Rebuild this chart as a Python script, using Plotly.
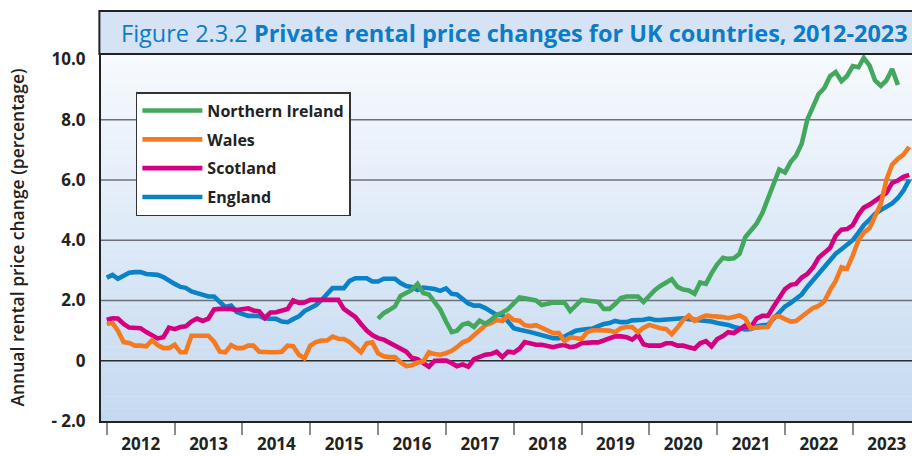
import pandas as pd
import plotly.graph_objects as go

# ---- data (annual % change, monthly from Jan 2012) ----
england = [2.76, 2.85, 2.72, 2.82, 2.92, 2.94, 2.94, 2.88, 2.85, 2.85, 2.78, 2.65,
           2.55, 2.45, 2.42, 2.30, 2.24, 2.15, 2.13, 2.13, 1.95, 1.78, 1.83, 1.62,
           1.55, 1.49, 1.49, 1.49, 1.40, 1.39, 1.39, 1.30, 1.28, 1.38, 1.47, 1.65,
           1.75, 1.85, 2.00, 2.20, 2.41, 2.41, 2.41, 2.65, 2.74, 2.74, 2.74, 2.63,
           2.63, 2.72, 2.72, 2.72, 2.58, 2.48, 2.45, 2.35, 2.43, 2.42, 2.38, 2.32,
           2.40, 2.22, 2.20, 2.05, 1.90, 1.83, 1.83, 1.75, 1.62, 1.52, 1.52, 1.30,
           1.08, 1.03, 1.01, 0.95, 0.90, 0.86, 0.82, 0.75, 0.75, 0.80, 0.90, 1.00,
           1.03, 1.05, 1.07, 1.15, 1.22, 1.25, 1.32, 1.28, 1.28, 1.34, 1.34, 1.36,
           1.40, 1.35, 1.35, 1.37, 1.39, 1.40, 1.41, 1.38, 1.36, 1.34, 1.33, 1.30,
           1.25, 1.22, 1.19, 1.12, 1.08, 1.04, 1.05, 1.15, 1.18, 1.19, 1.40, 1.62,
           1.80, 1.92, 2.05, 2.20, 2.45, 2.68, 2.92, 3.15, 3.35, 3.55, 3.70, 3.85,
           4.00, 4.25, 4.50, 4.68, 4.88, 5.00, 5.10, 5.22, 5.40, 5.65, 6.00]

scotland = [1.36, 1.41, 1.40, 1.22, 1.10, 1.08, 1.08, 0.95, 0.85, 0.74, 0.78, 1.10,
            1.05, 1.12, 1.14, 1.30, 1.40, 1.32, 1.40, 1.70, 1.72, 1.72, 1.72, 1.68,
            1.72, 1.74, 1.67, 1.64, 1.42, 1.60, 1.61, 1.68, 1.72, 2.00, 1.92, 1.93,
            2.02, 2.02, 2.02, 2.02, 2.02, 2.02, 1.72, 1.60, 1.45, 1.22, 1.00, 0.85,
            0.75, 0.70, 0.60, 0.47, 0.40, 0.30, 0.10, 0.05, -0.08, -0.20, 0.00, 0.01,
            0.01, -0.08, -0.18, -0.12, -0.20, 0.05, 0.13, 0.20, 0.22, 0.30, 0.12, 0.30,
            0.27, 0.40, 0.62, 0.58, 0.53, 0.53, 0.50, 0.45, 0.50, 0.52, 0.45, 0.48,
            0.58, 0.61, 0.61, 0.61, 0.68, 0.78, 0.81, 0.81, 0.78, 0.70, 0.86, 0.55,
            0.50, 0.50, 0.50, 0.58, 0.58, 0.50, 0.50, 0.45, 0.40, 0.58, 0.65, 0.48,
            0.72, 0.82, 0.95, 0.92, 1.03, 1.17, 1.12, 1.40, 1.49, 1.49, 1.80, 2.10,
            2.38, 2.52, 2.55, 2.76, 2.88, 3.10, 3.42, 3.58, 3.75, 4.15, 4.35, 4.37,
            4.50, 4.85, 5.08, 5.18, 5.30, 5.45, 5.57, 5.90, 5.98, 6.10, 6.17]

wales = [1.23, 1.25, 1.00, 0.62, 0.59, 0.50, 0.50, 0.48, 0.68, 0.52, 0.42, 0.42,
         0.53, 0.28, 0.28, 0.83, 0.83, 0.83, 0.83, 0.63, 0.30, 0.28, 0.52, 0.42,
         0.42, 0.50, 0.50, 0.30, 0.28, 0.28, 0.28, 0.30, 0.50, 0.48, 0.20, 0.08,
         0.50, 0.62, 0.67, 0.67, 0.80, 0.73, 0.72, 0.62, 0.45, 0.28, 0.58, 0.61,
         0.25, 0.15, 0.12, 0.12, -0.05, -0.18, -0.15, -0.06, -0.02, 0.28, 0.22, 0.20,
         0.25, 0.33, 0.45, 0.61, 0.68, 0.85, 1.05, 1.18, 1.25, 1.35, 1.32, 1.50,
         1.35, 1.33, 1.18, 1.15, 1.18, 1.10, 1.00, 0.92, 0.92, 0.65, 0.78, 0.75,
         0.72, 0.95, 1.01, 1.01, 1.01, 1.00, 0.95, 1.08, 1.12, 1.12, 0.95, 1.10,
         1.19, 1.12, 1.08, 1.05, 0.88, 1.10, 1.35, 1.50, 1.32, 1.42, 1.50, 1.48,
         1.48, 1.45, 1.41, 1.45, 1.50, 1.40, 1.08, 1.10, 1.12, 1.12, 1.45, 1.48,
         1.38, 1.30, 1.32, 1.45, 1.58, 1.75, 1.82, 1.97, 2.35, 2.65, 3.10, 3.05,
         3.50, 4.00, 4.25, 4.40, 4.80, 5.20, 6.00, 6.51, 6.70, 6.84, 7.10]

# Northern Ireland, monthly from Jan 2016
northern_ireland = [1.40, 1.58, 1.68, 1.80, 2.15, 2.25, 2.35, 2.55, 2.25, 2.20, 1.92, 1.70,
                    1.30, 0.95, 1.00, 1.20, 1.25, 1.12, 1.33, 1.23, 1.35, 1.52, 1.60, 1.71,
                    1.90, 2.10, 2.07, 2.03, 2.00, 1.85, 1.90, 1.93, 1.93, 1.93, 1.65, 1.85,
                    2.02, 2.00, 1.98, 1.95, 1.72, 1.72, 1.88, 2.08, 2.13, 2.13, 2.13, 1.95,
                    2.15, 2.35, 2.48, 2.58, 2.70, 2.45, 2.36, 2.33, 2.22, 2.60, 2.55, 2.90,
                    3.20, 3.42, 3.38, 3.40, 3.55, 4.10, 4.33, 4.55, 4.90, 5.35, 5.90, 6.35,
                    6.25, 6.60, 6.80, 7.20, 8.00, 8.40, 8.85, 9.05, 9.45, 9.58, 9.28, 9.45,
                    9.78, 9.74, 10.05, 9.80, 9.30, 9.12, 9.30, 9.68, 9.15]

y_tickvals = [-2, 0, 2, 4, 6, 8, 10]
y_ticktext = ["- 2.0", "0", "2.0", "4.0", "6.0", "8.0", "10.0"]
grid_values = [2, 4, 6, 8]

dates_main = pd.date_range("2012-01-01", periods=len(england), freq="MS")
dates_ni = pd.date_range("2016-01-01", periods=len(northern_ireland), freq="MS")

FONT = "Open Sans"
DARK = "#222222"

fig = go.Figure()
# drawn bottom-to-top; legendrank gives the reference legend order
series = [
    ("England", dates_main, england, "#0a82c8", 4),
    ("Scotland", dates_main, scotland, "#d4007f", 3),
    ("Wales", dates_main, wales, "#f47a22", 2),
    ("Northern Ireland", dates_ni, northern_ireland, "#43a85e", 1),
]
for name, xs, ys, col, rank in series:
    fig.add_trace(go.Scatter(x=xs, y=ys, mode="lines", name=name, legendgroup=name,
                             legendrank=rank,
                             line=dict(color=col, width=4.6), hoverinfo="skip"))

shapes = []
# gradient background
n = 60
top = (247, 250, 254)
bot = (196, 217, 240)
for i in range(n):
    t = (i + 0.5) / n
    c = tuple(round(top[k] + (bot[k] - top[k]) * t) for k in range(3))
    shapes.append(dict(type="rect", xref="paper", yref="paper", x0=0, x1=1,
                       y0=1 - (i + 1) / n, y1=1 - i / n + 0.001, layer="below",
                       line=dict(width=0), fillcolor="rgb(%d,%d,%d)" % c))
# grid lines
for g in grid_values:
    shapes.append(dict(type="line", xref="paper", yref="y", x0=0, x1=1, y0=g, y1=g,
                       layer="below", line=dict(color="#6b6f78", width=1.4)))
shapes.append(dict(type="line", xref="paper", yref="y", x0=0, x1=1, y0=0, y1=0,
                   layer="below", line=dict(color="#2a2a2a", width=1.6)))
# title band
shapes.append(dict(type="rect", xref="paper", yref="paper", x0=-0.002, x1=1.02,
                   y0=1.0, y1=1.117, fillcolor="#d5e3f5",
                   line=dict(color=DARK, width=2)))

fig.update_layout(
    width=912, height=456,
    margin=dict(l=101, r=0, t=54, b=35, autoexpand=False),
    paper_bgcolor="white",
    plot_bgcolor="rgba(0,0,0,0)",
    shapes=shapes,
    showlegend=True,
    legend=dict(x=0.043, y=0.896, xanchor="left", yanchor="top",
                bgcolor="white", bordercolor="#333333", borderwidth=1.5,
                font=dict(family=FONT, size=16, color=DARK, weight="bold"),
                itemwidth=60, tracegroupgap=5, traceorder="grouped"),
    annotations=[dict(
        text="Figure 2.3.2 <b>Private rental price changes for UK countries, 2012-2023</b>",
        xref="paper", yref="paper", x=0.022, y=1.058, xanchor="left", yanchor="middle",
        showarrow=False, font=dict(family=FONT, size=23.5, color="#0b7cc6"))],
    xaxis=dict(type="date", range=["2011-12-01", "2023-11-16"], automargin=False,
               tick0="2012-01-01", dtick="M12", ticklabelmode="period", tickformat="%Y",
               ticks="outside", ticklen=12, tickwidth=1.5, tickcolor="#8a8a8a",
               ticklabelstandoff=-5,
               showgrid=False, zeroline=False, showline=True, linecolor=DARK, linewidth=2,
               tickfont=dict(family=FONT, size=17, color=DARK, weight="bold")),
    yaxis=dict(range=[-2, 10.18], tickvals=y_tickvals, ticktext=y_ticktext,
               automargin=False,
               ticks="", showgrid=False, zeroline=False, showline=True,
               linecolor=DARK, linewidth=2, ticklabelstandoff=10,
               tickfont=dict(family=FONT, size=17, color=DARK, weight="bold"),
               title=dict(text="Annual rental price change (percentage)", standoff=22,
                          font=dict(family=FONT, size=17.5, color=DARK, weight=600))),
)

fig.write_html("out.html", config={"displayModeBar": False},
               post_script="document.body.style.margin='0';document.body.style.overflow='hidden';")
